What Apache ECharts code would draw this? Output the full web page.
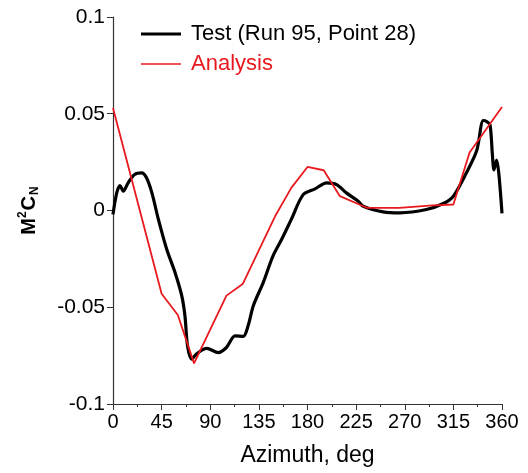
<!DOCTYPE html>
<html>
<head>
<meta charset="utf-8">
<script src="https://cdn.jsdelivr.net/npm/echarts@6/dist/echarts.min.js"></script>
<style>
  html, body { margin: 0; padding: 0; background: #fff; }
  #chart { width: 528px; height: 473px; }
</style>
</head>
<body>
<div id="chart"></div>
<script>
// Test data (Run 95, Point 28): azimuth in deg and M2CN
var testAz = [0, 3.4, 6.5, 9.5, 14, 20, 26.5, 31, 36, 42, 49.7, 57.4, 63.6, 66.6, 69, 72.8,
  77.5, 86.7, 97.5, 105, 113, 120.6, 125, 130, 139, 148, 156, 165, 176, 187, 197.8, 207,
  216, 227, 231.6, 250, 265.6, 290, 305.7, 315, 327, 336.6, 342.7, 345.8, 348.9, 351,
  352.6, 355, 357, 360];
var testVal = [-0.002, 0.009, 0.0129, 0.010, 0.0143, 0.0186, 0.0194, 0.0169, 0.0091, -0.0046,
  -0.020, -0.032, -0.044, -0.0545, -0.070, -0.0768, -0.074, -0.0713, -0.0734, -0.0708,
  -0.0648, -0.065, -0.0596, -0.049, -0.0373, -0.0236, -0.015, -0.0046, 0.0082, 0.0112,
  0.0143, 0.0134, 0.0091, 0.0048, 0.0022, -0.0007, -0.0012, 0.0005, 0.0036, 0.0074,
  0.0194, 0.031, 0.0465, 0.046, 0.0443, 0.0297, 0.021, 0.026, 0.0194, -0.0015];

// Analysis
var anaAz = [0, 45, 60, 75, 105, 120, 150, 165, 180, 195, 210, 235, 265, 296, 315, 330, 360];
var anaVal = [0.053, -0.043, -0.054, -0.079, -0.044, -0.038, -0.003, 0.0117, 0.0225, 0.0208,
  0.0074, 0.0014, 0.0014, 0.0026, 0.0031, 0.0300, 0.0535];

var xTicks = [0, 45, 90, 135, 180, 225, 270, 315, 360];
var yTicks = [-0.1, -0.05, 0, 0.05, 0.1];

function zip(a, b) {
  return a.map(function (v, i) { return [v, b[i]]; });
}

var chart = echarts.init(document.getElementById('chart'));
var font = 'Liberation Sans, Arial, Helvetica, sans-serif';

var option = {
  animation: false,
  grid: { left: 113, right: 26, top: 17, bottom: 69 },
  legend: {
    left: 136,
    top: 18,
    orient: 'vertical',
    itemWidth: 40,
    itemHeight: 10,
    itemGap: 8,
    textStyle: { fontFamily: font, fontSize: 22, color: '#000', padding: [0, 0, 0, 5] },
    data: [
      { name: 'Test (Run 95, Point 28)', icon: 'path://M0,0 L40,0 L40,3 L0,3 Z' },
      { name: 'Analysis', icon: 'path://M0,0 L40,0 L40,1.6 L0,1.6 Z', textStyle: { color: '#e8191e' } }
    ]
  },
  xAxis: {
    type: 'value',
    min: xTicks[0],
    max: xTicks[xTicks.length - 1],
    interval: 45,
    name: 'Azimuth, deg',
    nameLocation: 'middle',
    nameGap: 40,
    nameTextStyle: { fontFamily: font, fontSize: 23, color: '#000' },
    axisLine: { onZero: false, lineStyle: { color: '#333', width: 1.2 } },
    axisTick: { length: 6, lineStyle: { color: '#333' } },
    minorTick: { show: true, splitNumber: 2, length: 3, lineStyle: { color: '#333' } },
    axisLabel: { fontFamily: font, fontSize: 20, color: '#000', margin: 8 },
    splitLine: { show: false }
  },
  yAxis: {
    type: 'value',
    min: yTicks[0],
    max: yTicks[yTicks.length - 1],
    interval: 0.05,
    name: '{b|M}{sup|2}{b|C}{sub|N}',
    nameLocation: 'middle',
    nameRotate: 90,
    nameGap: 72,
    nameTextStyle: {
      rich: {
        b: { fontFamily: font, fontSize: 20, fontWeight: 'bold', color: '#000', lineHeight: 24 },
        sup: { fontFamily: font, fontSize: 12, fontWeight: 'bold', color: '#000', lineHeight: 12, verticalAlign: 'top', padding: [0, 1, 10, 0] },
        sub: { fontFamily: font, fontSize: 12, fontWeight: 'bold', color: '#000', lineHeight: 12, verticalAlign: 'bottom', padding: [10, 0, 0, 1] }
      }
    },
    axisLine: { show: true, onZero: false, lineStyle: { color: '#333', width: 1.2 } },
    axisTick: { show: true, length: 6, lineStyle: { color: '#333' } },
    axisLabel: { fontFamily: font, fontSize: 21, color: '#000', margin: 8 },
    splitLine: { show: false }
  },
  series: [
    {
      name: 'Test (Run 95, Point 28)',
      type: 'line',
      data: zip(testAz, testVal),
      smooth: 0.3,
      showSymbol: false,
      lineStyle: { color: '#000', width: 3.2 },
      itemStyle: { color: '#000' },
      z: 2
    },
    {
      name: 'Analysis',
      type: 'line',
      data: zip(anaAz, anaVal),
      showSymbol: false,
      lineStyle: { color: '#e8191e', width: 1.8 },
      itemStyle: { color: '#e8191e' },
      z: 3
    }
  ]
};

chart.setOption(option);
</script>
</body>
</html>
